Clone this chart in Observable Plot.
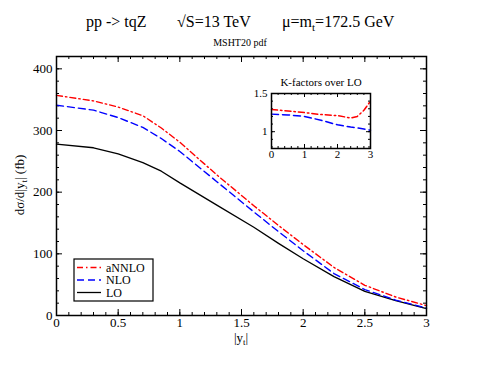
<!DOCTYPE html>
<html><head><meta charset="utf-8">
<script src="https://cdn.jsdelivr.net/npm/d3@7"></script>
<script src="https://cdn.jsdelivr.net/npm/@observablehq/plot@0.6"></script>
<style>
body{margin:0;background:#fff;}
#wrap{position:relative;width:480px;height:371px;font-family:"Liberation Serif","DejaVu Serif",serif;}
#wrap > svg{position:absolute;}
</style></head>
<body><div id="wrap"></div>
<script>
// ---- data ----
const series = ["aNNLO", "NLO", "LO"];
const yt    = [0, 0.3, 0.5, 0.7, 0.85, 1, 1.3, 1.6, 1.8, 2, 2.25, 2.5, 2.75, 3];
const annlo = [357, 348, 338, 324, 304, 281, 228, 178, 146, 115, 78, 49, 30, 16];
const nlo   = [341, 333, 321, 305, 287, 266, 217, 168, 136, 105, 68, 42, 25, 12];
const lo    = [278, 272, 262, 248, 234, 215, 179, 143, 117, 92, 63, 39, 24, 11];
const xTickLabels = [0, 0.5, 1, 1.5, 2, 2.5, 3];
const yTickLabels = [0, 100, 200, 300, 400];

const kx     = [0, 0.5, 1, 1.5, 2, 2.4, 2.6, 2.8, 3];
const kAnnlo = [1.29, 1.27, 1.25, 1.225, 1.21, 1.18, 1.20, 1.28, 1.40];
const kNlo   = [1.23, 1.22, 1.20, 1.15, 1.09, 1.06, 1.05, 1.035, 1.02];
const kxTickLabels = [0, 1, 2, 3];
const kyTickLabels = [1, 1.5];

// ---- styles ----
const styles = {
  aNNLO: {stroke: "#ff0000", strokeDasharray: "6,3,1.5,3", strokeWidth: 1.4},
  NLO:   {stroke: "#0000ff", strokeDasharray: "7,4", strokeWidth: 1.4},
  LO:    {stroke: "#000000", strokeDasharray: null, strokeWidth: 1.3}
};
const mainRows = yt.flatMap((x, i) => [
  {x, y: annlo[i], s: "aNNLO"}, {x, y: nlo[i], s: "NLO"}, {x, y: lo[i], s: "LO"}
]);
const kRows = kx.flatMap((x, i) => [
  {x, y: kAnnlo[i], s: "aNNLO"}, {x, y: kNlo[i], s: "NLO"}
]);

const wrap = document.getElementById("wrap");

function ticksFrame(xMaj, xMin, yMaj, yMin, ih, iw, Lmaj, Lmin, sw) {
  const o = {strokeWidth: sw};
  return [
    Plot.tickX(xMin, {x: d => d, insetTop: ih - Lmin, ...o}),
    Plot.tickX(xMin, {x: d => d, insetBottom: ih - Lmin, ...o}),
    Plot.tickX(xMaj, {x: d => d, insetTop: ih - Lmaj, ...o}),
    Plot.tickX(xMaj, {x: d => d, insetBottom: ih - Lmaj, ...o}),
    Plot.tickY(yMin, {y: d => d, insetRight: iw - Lmin, ...o}),
    Plot.tickY(yMin, {y: d => d, insetLeft: iw - Lmin, ...o}),
    Plot.tickY(yMaj, {y: d => d, insetRight: iw - Lmaj, ...o}),
    Plot.tickY(yMaj, {y: d => d, insetLeft: iw - Lmaj, ...o})
  ];
}

// ---- main plot ----
{
  const W = 480, H = 371, mt = 56, mb = 56, ml = 56, mr = 54;
  const ih = H - mt - mb, iw = W - ml - mr;
  const xMin = d3.range(0, 31).map(i => i / 10);
  const yMin = d3.range(0, 421, 20);
  const chart = Plot.plot({
    width: W, height: H,
    marginTop: mt, marginBottom: mb, marginLeft: ml, marginRight: mr,
    style: {fontFamily: "'Liberation Serif', serif", fontSize: "13px", background: "transparent", color: "#000"},
    x: {domain: [0, 3]},
    y: {domain: [0, 420]},
    marks: [
      ...ticksFrame(xTickLabels, xMin, yTickLabels, yMin, ih, iw, 6, 3, 1),
      ...series.slice().reverse().map(s => Plot.line(mainRows.filter(d => d.s === s), {
        x: "x", y: "y", ...styles[s]
      })),
      Plot.frame({strokeWidth: 1.5}),
      Plot.axisX({ticks: xTickLabels, tickSize: 0, tickPadding: 2, tickFormat: d => String(d), label: null, fill: "#000"}),
      Plot.axisY({ticks: yTickLabels, tickSize: 0, tickPadding: 4, tickFormat: d => String(d), label: null, fill: "#000"})
    ]
  });
  chart.style.left = "0px"; chart.style.top = "0px";
  wrap.appendChild(chart);
}

// ---- inset plot ----
{
  const W = 140, H = 95, mt = 18, mb = 22, ml = 31, mr = 10;
  const ih = H - mt - mb, iw = W - ml - mr;
  const xMin = d3.range(0, 16).map(i => i / 5);
  const yMin = d3.range(8, 16).map(i => i / 10);
  const inset = Plot.plot({
    width: W, height: H,
    marginTop: mt, marginBottom: mb, marginLeft: ml, marginRight: mr,
    style: {fontFamily: "'Liberation Serif', serif", fontSize: "11px", background: "transparent", color: "#000"},
    x: {domain: [0, 3]},
    y: {domain: [0.78, 1.5]},
    marks: [
      ...ticksFrame(kxTickLabels, xMin, kyTickLabels, yMin, ih, iw, 4, 2, 1),
      ...["NLO", "aNNLO"].map(s => Plot.line(kRows.filter(d => d.s === s), {
        x: "x", y: "y", ...styles[s], strokeWidth: 1.5
      })),
      Plot.frame({strokeWidth: 1.5}),
      Plot.axisX({ticks: kxTickLabels, tickSize: 0, tickPadding: 2, tickFormat: d => String(d), label: null, fill: "#000"}),
      Plot.axisY({ticks: kyTickLabels, tickSize: 0, tickPadding: 4, tickFormat: d => String(d), label: null, fill: "#000"})
    ]
  });
  inset.style.left = "240px"; inset.style.top = "75px";
  wrap.appendChild(inset);
}

// ---- overlay: titles, axis titles, legend ----
{
  const svg = d3.create("svg").attr("width", 480).attr("height", 371)
    .style("left", "0px").style("top", "0px")
    .attr("font-family", "'Liberation Serif', serif").attr("fill", "#000");
  svg.append("text").attr("x", 86).attr("y", 27).attr("font-size", 16).text("pp -> tqZ");
  svg.append("text").attr("x", 177).attr("y", 27).attr("font-size", 16).text("\u221AS=13 TeV");
  const t3 = svg.append("text").attr("x", 282).attr("y", 27).attr("font-size", 16);
  t3.append("tspan").text("\u03BC=m");
  t3.append("tspan").attr("font-size", 11).attr("dy", 4).text("t");
  t3.append("tspan").attr("dy", -4).text("=172.5 GeV");
  svg.append("text").attr("x", 240).attr("y", 46).attr("font-size", 10).attr("text-anchor", "middle").text("MSHT20 pdf");

  const yl = svg.append("text").attr("transform", "translate(24,185) rotate(-90)")
    .attr("text-anchor", "middle").attr("font-size", 13);
  yl.append("tspan").text("d\u03C3/d|y");
  yl.append("tspan").attr("font-size", 9).attr("dy", 3).text("t");
  yl.append("tspan").attr("dy", -3).text("| (fb)");

  const xl = svg.append("text").attr("x", 241).attr("y", 342).attr("text-anchor", "middle").attr("font-size", 13);
  xl.append("tspan").text("|y");
  xl.append("tspan").attr("font-size", 9).attr("dy", 3).text("t");
  xl.append("tspan").attr("dy", -3).text("|");

  svg.append("text").attr("x", 321).attr("y", 86).attr("text-anchor", "middle").attr("font-size", 11).text("K-factors over LO");

  // legend
  svg.append("rect").attr("x", 74).attr("y", 259).attr("width", 79).attr("height", 42)
    .attr("fill", "#fff").attr("stroke", "#000").attr("stroke-width", 1.2);
  series.forEach((s, i) => {
    const y = 267.5 + i * 12.5;
    const st = styles[s];
    svg.append("line").attr("x1", 77).attr("x2", 101).attr("y1", y).attr("y2", y)
      .attr("stroke", st.stroke).attr("stroke-width", st.strokeWidth)
      .attr("stroke-dasharray", st.strokeDasharray);
    svg.append("text").attr("x", 106).attr("y", y + 4).attr("font-size", 12).text(s);
  });
  wrap.appendChild(svg.node());
}
</script>
</body></html>
